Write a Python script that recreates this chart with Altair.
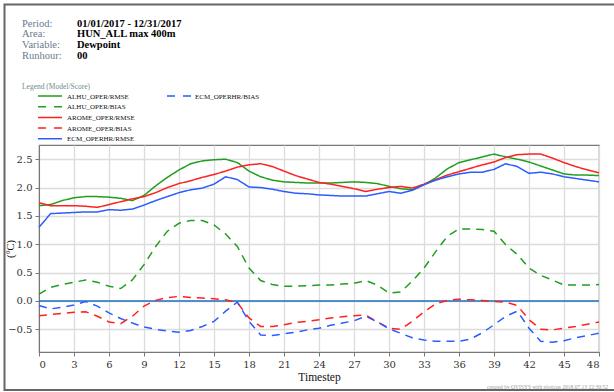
import altair as alt
import pandas as pd

# ---- verification scores per forecast timestep (hours) ----
timesteps = list(range(49))

alhu_rmse = [1.68, 1.70, 1.77, 1.82, 1.84, 1.84, 1.83, 1.81, 1.77, 1.86, 2.03, 2.18, 2.31,
             2.42, 2.47, 2.49, 2.50, 2.44, 2.29, 2.19, 2.13, 2.10, 2.09, 2.08, 2.08, 2.08,
             2.09, 2.10, 2.09, 2.07, 2.02, 1.98, 1.96, 2.05, 2.17, 2.33, 2.44, 2.49, 2.54,
             2.59, 2.54, 2.50, 2.45, 2.38, 2.31, 2.24, 2.22, 2.22, 2.21]
alhu_bias = [0.12, 0.24, 0.29, 0.33, 0.37, 0.33, 0.26, 0.22, 0.37, 0.64, 0.96, 1.23, 1.37,
             1.42, 1.42, 1.34, 1.18, 0.96, 0.58, 0.36, 0.29, 0.26, 0.26, 0.27, 0.28, 0.28,
             0.30, 0.31, 0.36, 0.28, 0.14, 0.16, 0.35, 0.58, 0.87, 1.14, 1.27, 1.27, 1.26,
             1.23, 0.99, 0.82, 0.58, 0.45, 0.37, 0.28, 0.28, 0.28, 0.29]
arome_rmse = [1.73, 1.68, 1.68, 1.68, 1.67, 1.65, 1.70, 1.75, 1.80, 1.84, 1.91, 2.00, 2.07,
              2.12, 2.18, 2.23, 2.29, 2.36, 2.40, 2.42, 2.37, 2.29, 2.21, 2.15, 2.09, 2.06,
              2.02, 1.98, 1.93, 1.97, 2.00, 2.02, 1.99, 2.06, 2.14, 2.22, 2.28, 2.34, 2.40,
              2.45, 2.53, 2.58, 2.59, 2.59, 2.52, 2.44, 2.37, 2.31, 2.26]
arome_bias = [-0.26, -0.24, -0.22, -0.20, -0.19, -0.27, -0.37, -0.40, -0.27, -0.09, 0.01,
              0.06, 0.08, 0.06, 0.05, 0.04, 0.02, -0.03, -0.30, -0.45, -0.45, -0.42, -0.38,
              -0.36, -0.33, -0.30, -0.28, -0.26, -0.25, -0.37, -0.48, -0.50, -0.36, -0.19,
              -0.05, 0.01, 0.03, 0.02, 0.01, -0.01, -0.02, -0.08, -0.33, -0.50, -0.51, -0.48,
              -0.45, -0.41, -0.37]
ecm_rmse = [1.30, 1.54, 1.55, 1.56, 1.57, 1.57, 1.61, 1.60, 1.62, 1.69, 1.77, 1.84, 1.91,
            1.96, 1.99, 2.06, 2.19, 2.14, 2.01, 2.00, 1.97, 1.93, 1.90, 1.89, 1.87, 1.86,
            1.85, 1.85, 1.85, 1.89, 1.93, 1.90, 1.95, 2.05, 2.13, 2.19, 2.24, 2.27, 2.27,
            2.32, 2.42, 2.37, 2.25, 2.27, 2.24, 2.19, 2.16, 2.13, 2.10]
ecm_bias = [-0.08, -0.14, -0.11, -0.07, -0.01, -0.09, -0.21, -0.31, -0.39, -0.46, -0.50,
            -0.53, -0.55, -0.52, -0.45, -0.36, -0.18, -0.02, -0.36, -0.60, -0.61, -0.58,
            -0.55, -0.51, -0.48, -0.43, -0.39, -0.35, -0.27, -0.37, -0.49, -0.57, -0.65,
            -0.69, -0.71, -0.71, -0.71, -0.67, -0.56, -0.42, -0.27, -0.18, -0.48, -0.71,
            -0.73, -0.70, -0.65, -0.61, -0.57]

series_names = ["ALHU_OPER/RMSE", "ALHU_OPER/BIAS", "AROME_OPER/RMSE",
                "AROME_OPER/BIAS", "ECM_OPERHR/RMSE", "ECM_OPERHR/BIAS"]
series_values = [alhu_rmse, alhu_bias, arome_rmse, arome_bias, ecm_rmse, ecm_bias]
series_colors = ["#1f9e1f", "#1f9e1f", "#ff2020", "#ff2020", "#2a5cff", "#2a5cff"]

x_ticks = list(range(0, 49, 3))
y_ticks = [-0.5, 0.0, 0.5, 1.0, 1.5, 2.0, 2.5]

header_labels = ["Period:", "Area:", "Variable:", "Runhour:"]
header_values = ["01/01/2017 - 12/31/2017", "HUN_ALL max 400m", "Dewpoint", "00"]

# ---- long table for the line marks ----
rows = []
for order, (name, vals) in enumerate(zip(series_names, series_values)):
    score = name.split("/")[1]
    for t, v in zip(timesteps, vals):
        rows.append({"series": name, "score": score, "order": order,
                     "timestep": t, "value": v})
df = pd.DataFrame(rows)

W, H = 560, 207
PAD_L, PAD_T = 39, 145
SERIF = "Liberation Serif"

x_scale = alt.Scale(domain=[0, 48], nice=False, zero=False)
y_scale = alt.Scale(domain=[-0.9, 2.75], nice=False, zero=False)

x_axis = alt.Axis(values=x_ticks, title="Timestep", grid=True, gridColor="#dcdcdc",
                  gridWidth=1.3, domainColor="#777", tickColor="#777", tickSize=4,
                  labelFont="DejaVu Serif", labelFontSize=10, labelColor="#333",
                  labelPadding=3, labelOverlap=False, titleFont=SERIF,
                  titleFontSize=11.5, titleFontWeight="normal", titleColor="#111",
                  titleY=25, titleBaseline="middle")
y_axis = alt.Axis(values=y_ticks, title="(°C)", grid=True, gridColor="#dcdcdc",
                  gridWidth=1.3, domainColor="#777", tickColor="#777", tickSize=4,
                  labelFont="DejaVu Serif", labelFontSize=10, labelColor="#333",
                  labelPadding=3, labelOverlap=False, titleFont=SERIF,
                  titleFontSize=10.5, titleFontWeight="normal", titleColor="#111",
                  titleX=-24, titleY=H / 2, titleAlign="center", format=".1f")

lines = alt.Chart(df).mark_line(strokeWidth=1.5, strokeCap="butt").encode(
    x=alt.X("timestep:Q", scale=x_scale, axis=x_axis),
    y=alt.Y("value:Q", scale=y_scale, axis=y_axis),
    color=alt.Color("series:N", scale=alt.Scale(domain=series_names, range=series_colors),
                    legend=None),
    strokeDash=alt.StrokeDash("score:N",
                              scale=alt.Scale(domain=["RMSE", "BIAS"], range=[[1, 0], [8, 6]]),
                              legend=None),
    detail="series:N",
    order=alt.Order("timestep:Q"),
)

one = pd.DataFrame({"k": [0]})

# zero reference line, drawn under the series
zero_line = alt.Chart(one).mark_rule(color="#1f6fc0", strokeWidth=1.6).encode(
    y=alt.YDatum(0, scale=y_scale, axis=y_axis, type="quantitative"),
    x=alt.value(0), x2=alt.value(W))

layers = [zero_line, lines]

# header block
for i, (lab, val) in enumerate(zip(header_labels, header_values)):
    yy = 26.5 + i * 10.8 - PAD_T
    layers.append(alt.Chart(one).mark_text(text=lab, font=SERIF, fontSize=10.5, color="#6a7a8c",
                                           align="left", baseline="alphabetic").encode(
        x=alt.value(22 - PAD_L), y=alt.value(yy)))
    layers.append(alt.Chart(one).mark_text(text=val, font=SERIF, fontSize=10.5, fontWeight="bold",
                                           color="#000", align="left", baseline="alphabetic").encode(
        x=alt.value(77 - PAD_L), y=alt.value(yy)))

# legend
layers.append(alt.Chart(one).mark_text(text="Legend (Model/Score)", font=SERIF, fontSize=7.5,
                                       color="#6f8c8c", align="left", baseline="middle").encode(
    x=alt.value(22 - PAD_L), y=alt.value(87 - PAD_T)))
for i, (name, col) in enumerate(zip(series_names, series_colors)):
    if i < 5:
        lx0, lx1, tx, ly = 38, 62, 67, 96 + i * 10.7
    else:
        lx0, lx1, tx, ly = 167, 191, 195, 96
    dash = [1, 0] if name.endswith("RMSE") else [8, 8]
    layers.append(alt.Chart(one).mark_rule(color=col, strokeWidth=1.5, strokeDash=dash).encode(
        x=alt.value(lx0 - PAD_L), x2=alt.value(lx1 - PAD_L), y=alt.value(ly - PAD_T)))
    layers.append(alt.Chart(one).mark_text(text=name, font=SERIF, fontSize=7, color="#111",
                                           align="left", baseline="middle").encode(
        x=alt.value(tx - PAD_L), y=alt.value(ly + 0.5 - PAD_T)))

# footer
layers.append(alt.Chart(one).mark_text(text="created by OVISYS with ploticus 2018.07.13 22:30:52",
                                       font=SERIF, fontSize=5.5, color="#999", align="left",
                                       baseline="alphabetic").encode(
    x=alt.value(487 - PAD_L), y=alt.value(389 - PAD_T)))

# outer frame
layers.append(alt.Chart(one).mark_rect(fill=None, fillOpacity=0, stroke="#666", strokeWidth=2).encode(
    x=alt.value(4.5 - PAD_L), x2=alt.value(616 - PAD_L),
    y=alt.value(4.5 - PAD_T), y2=alt.value(390 - PAD_T)))

chart = alt.layer(*layers).properties(
    width=W, height=H,
    padding={"left": PAD_L, "top": PAD_T, "right": 614 - PAD_L - W, "bottom": 392 - PAD_T - H},
    autosize=alt.AutoSizeParams(type="none"),
    background="white",
).configure_view(stroke="#777", strokeWidth=1.2).configure_axis(labelOverlap=False)

chart.save("out.html", embed_options={"renderer": "svg", "actions": False})
